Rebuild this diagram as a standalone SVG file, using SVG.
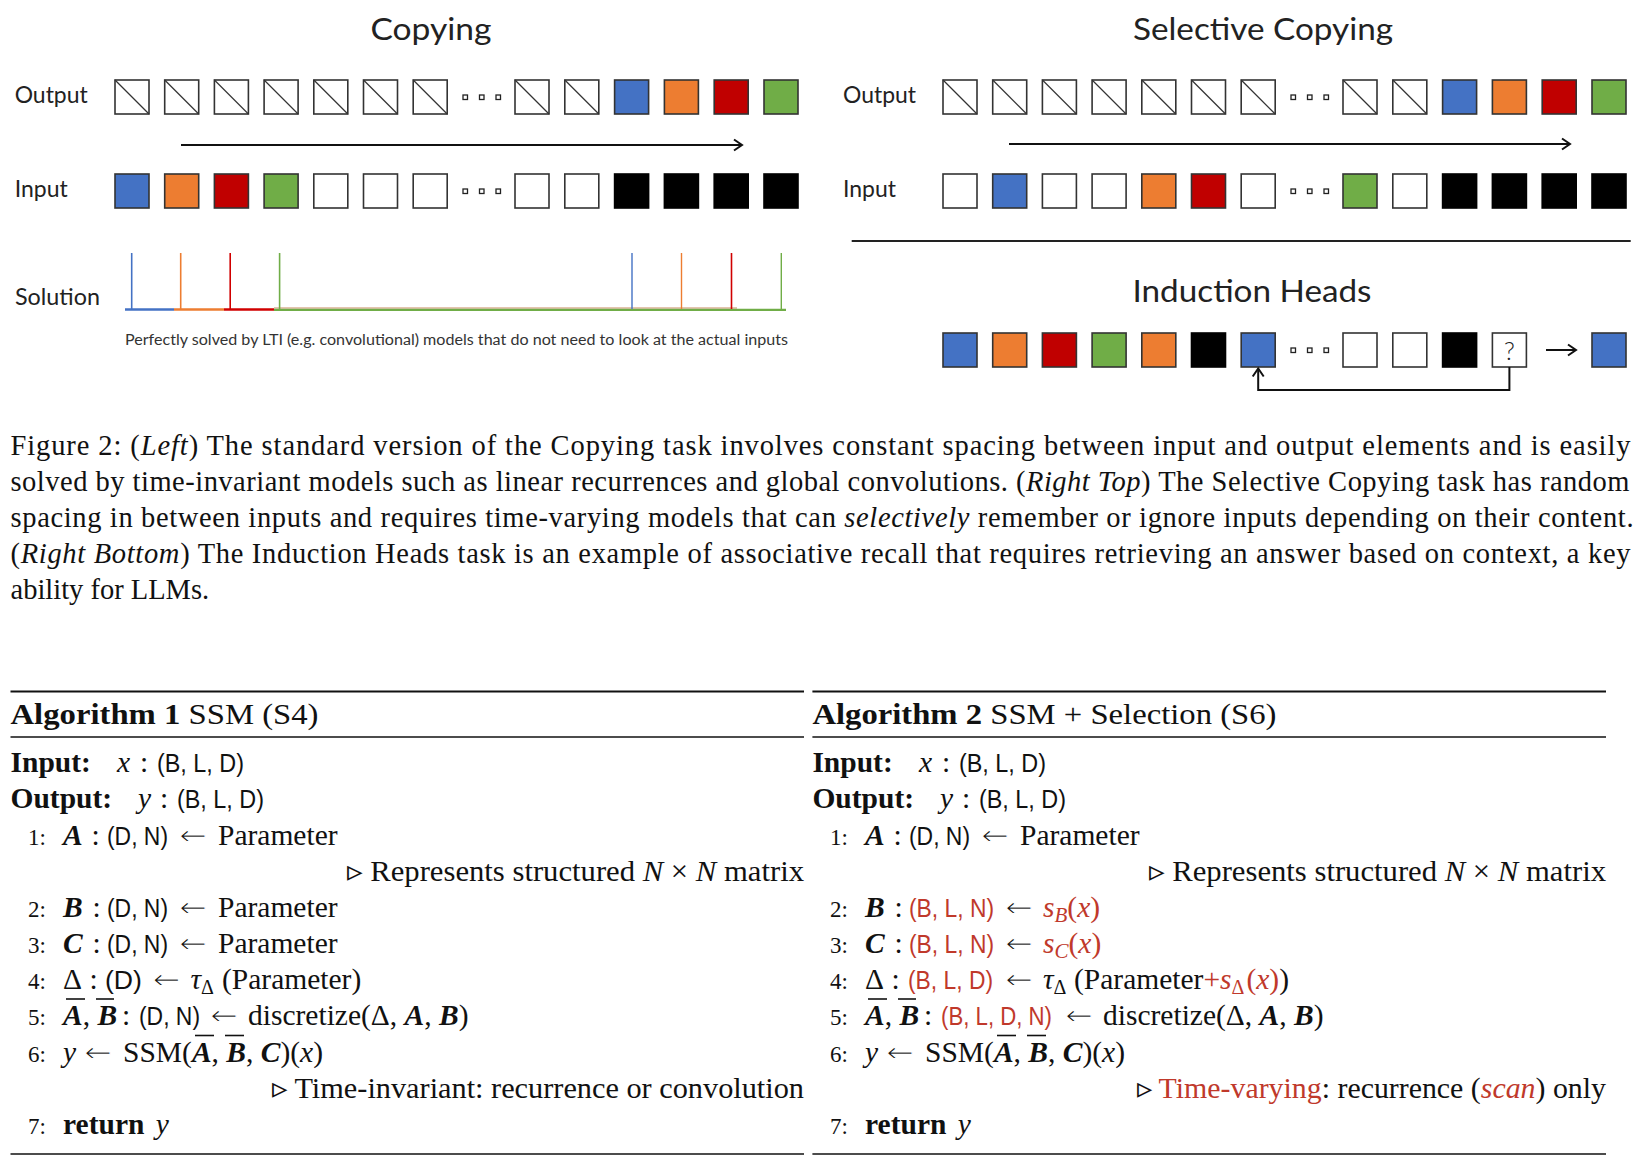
<svg xmlns="http://www.w3.org/2000/svg" xmlns:xlink="http://www.w3.org/1999/xlink" width="1650" height="1162" viewBox="0 0 1650 1162">
<style>
.fig{font-family:Lato,"Open Sans","Noto Sans",sans-serif;fill:#222}
.ttl{font-size:31px;text-anchor:middle}
.lbl{font-size:24px}
.note{font-size:14.5px;fill:#333}
.bx{stroke:#333;stroke-width:1.6}
.w{fill:#fff}.bl{fill:#4472C4}.or{fill:#ED7D31}.rd{fill:#C00000}.gr{fill:#70AD47}.bk{fill:#000;stroke:#000}
.dot{fill:#fff;stroke:#222;stroke-width:1.3}
.diag{stroke:#333;stroke-width:1.2}
.arr{stroke:#111;stroke-width:2;fill:none}
.cap{font-family:"Liberation Serif","Times New Roman",serif;font-size:28.5px;fill:#111}
.alg{font-family:"Liberation Serif","Times New Roman",serif;font-size:29.5px;fill:#111}
.ss{font-family:"Liberation Sans",Arial,sans-serif;font-size:25px}
.arw{font-family:"DejaVu Sans",sans-serif;font-size:28px;fill:#111;stroke:#fff;stroke-width:1.1}
.ln{font-size:23px}
.b{font-weight:bold}.i{font-style:italic}.bi{font-weight:bold;font-style:italic}
.red{fill:#C0392B}
.rule{stroke:#111}
</style>
<defs>
<marker id="chev" markerUnits="userSpaceOnUse" markerWidth="14" markerHeight="14" refX="10" refY="7" orient="auto">
<path d="M2,1.5 L10,7 L2,12.5" fill="none" stroke="#111" stroke-width="2"/>
</marker>
<g id="ob"><rect class="bx w" width="34" height="34"/><line class="diag" x1="0" y1="0" x2="34" y2="34"/></g>
<rect id="wb" class="bx w" width="34" height="34"/>
<rect id="bb" class="bx bl" width="34" height="34"/>
<rect id="obx" class="bx or" width="34" height="34"/>
<rect id="rb" class="bx rd" width="34" height="34"/>
<rect id="gb" class="bx gr" width="34" height="34"/>
<rect id="kb" class="bx bk" width="34" height="34"/>
<g id="dots"><rect class="dot" x="-2" y="-2" width="4.5" height="4.5"/><rect class="dot" x="14.5" y="-2" width="4.5" height="4.5"/><rect class="dot" x="31" y="-2" width="4.5" height="4.5"/></g>
</defs>
<rect width="1650" height="1162" fill="#fff"/>

<g id="copying" class="fig">
<text class="fig ttl" x="431" y="40" textLength="121" lengthAdjust="spacingAndGlyphs">Copying</text>
<text class="fig lbl" x="14.7" y="103" textLength="73" lengthAdjust="spacingAndGlyphs">Output</text>
<text class="fig lbl" x="14.7" y="197" textLength="53" lengthAdjust="spacingAndGlyphs">Input</text>
<text class="fig lbl" x="15" y="305" textLength="85" lengthAdjust="spacingAndGlyphs">Solution</text>
<g id="copy-out">
<use href="#ob" x="115" y="80"/><use href="#ob" x="164.7" y="80"/><use href="#ob" x="214.4" y="80"/><use href="#ob" x="264.1" y="80"/><use href="#ob" x="313.8" y="80"/><use href="#ob" x="363.5" y="80"/><use href="#ob" x="413.2" y="80"/>
<use href="#dots" x="465" y="97"/>
<use href="#ob" x="515" y="80"/><use href="#ob" x="564.8" y="80"/><use href="#bb" x="614.6" y="80"/><use href="#obx" x="664.4" y="80"/><use href="#rb" x="714.2" y="80"/><use href="#gb" x="764" y="80"/>
</g>
<g id="copy-in">
<use href="#bb" x="115" y="174"/><use href="#obx" x="164.7" y="174"/><use href="#rb" x="214.4" y="174"/><use href="#gb" x="264.1" y="174"/><use href="#wb" x="313.8" y="174"/><use href="#wb" x="363.5" y="174"/><use href="#wb" x="413.2" y="174"/>
<use href="#dots" x="465" y="191"/>
<use href="#wb" x="515" y="174"/><use href="#wb" x="564.8" y="174"/><use href="#kb" x="614.6" y="174"/><use href="#kb" x="664.4" y="174"/><use href="#kb" x="714.2" y="174"/><use href="#kb" x="764" y="174"/>
</g>
<g id="solution">
<line x1="274" y1="308" x2="737" y2="308" stroke="#c98a63" stroke-width="1.2"/>
<line x1="125" y1="309.5" x2="174" y2="309.5" stroke="#4472C4" stroke-width="2.5"/>
<line x1="174" y1="309.5" x2="224" y2="309.5" stroke="#ED7D31" stroke-width="2.5"/>
<line x1="224" y1="309.5" x2="274" y2="309.5" stroke="#D00000" stroke-width="2.5"/>
<line x1="274" y1="309.8" x2="786" y2="309.8" stroke="#70AD47" stroke-width="2.2"/>
<line x1="131.7" y1="253" x2="131.7" y2="309" stroke="#4472C4" stroke-width="1.6"/>
<line x1="180.7" y1="253" x2="180.7" y2="309" stroke="#ED7D31" stroke-width="1.6"/>
<line x1="230.2" y1="253" x2="230.2" y2="309" stroke="#D00000" stroke-width="1.6"/>
<line x1="279.6" y1="253" x2="279.6" y2="309" stroke="#70AD47" stroke-width="1.6"/>
<line x1="632" y1="253" x2="632" y2="309" stroke="#4472C4" stroke-width="1.4"/>
<line x1="681.5" y1="253" x2="681.5" y2="309" stroke="#ED7D31" stroke-width="1.4"/>
<line x1="731.5" y1="253" x2="731.5" y2="309" stroke="#D00000" stroke-width="1.6"/>
<line x1="781.3" y1="253" x2="781.3" y2="309" stroke="#70AD47" stroke-width="1.4"/>
</g>
<text class="fig note" x="125" y="345" textLength="663" lengthAdjust="spacingAndGlyphs">Perfectly solved by LTI (e.g. convolutional) models that do not need to look at the actual inputs</text>
</g>

<g id="selective-copying" class="fig">
<text class="fig ttl" x="1263" y="40" textLength="260" lengthAdjust="spacingAndGlyphs">Selective Copying</text>
<text class="fig lbl" x="843" y="103" textLength="73" lengthAdjust="spacingAndGlyphs">Output</text>
<text class="fig lbl" x="843" y="197" textLength="53" lengthAdjust="spacingAndGlyphs">Input</text>
<g id="sel-out">
<use href="#ob" x="943" y="80"/><use href="#ob" x="992.7" y="80"/><use href="#ob" x="1042.4" y="80"/><use href="#ob" x="1092.1" y="80"/><use href="#ob" x="1141.8" y="80"/><use href="#ob" x="1191.5" y="80"/><use href="#ob" x="1241.2" y="80"/>
<use href="#dots" x="1293" y="97"/>
<use href="#ob" x="1343" y="80"/><use href="#ob" x="1392.8" y="80"/><use href="#bb" x="1442.6" y="80"/><use href="#obx" x="1492.4" y="80"/><use href="#rb" x="1542.2" y="80"/><use href="#gb" x="1592" y="80"/>
</g>
<g id="sel-in">
<use href="#wb" x="943" y="174"/><use href="#bb" x="992.7" y="174"/><use href="#wb" x="1042.4" y="174"/><use href="#wb" x="1092.1" y="174"/><use href="#obx" x="1141.8" y="174"/><use href="#rb" x="1191.5" y="174"/><use href="#wb" x="1241.2" y="174"/>
<use href="#dots" x="1293" y="191"/>
<use href="#gb" x="1343" y="174"/><use href="#wb" x="1392.8" y="174"/><use href="#kb" x="1442.6" y="174"/><use href="#kb" x="1492.4" y="174"/><use href="#kb" x="1542.2" y="174"/><use href="#kb" x="1592" y="174"/>
</g>
</g>

<line id="separator" x1="851.7" y1="241" x2="1630.7" y2="241" stroke="#222" stroke-width="2.2"/>

<g id="induction-heads" class="fig">
<text class="fig ttl" x="1252" y="302" textLength="239" lengthAdjust="spacingAndGlyphs">Induction Heads</text>
<use href="#bb" x="943" y="333"/><use href="#obx" x="992.7" y="333"/><use href="#rb" x="1042.4" y="333"/><use href="#gb" x="1092.1" y="333"/><use href="#obx" x="1141.8" y="333"/><use href="#kb" x="1191.5" y="333"/><use href="#bb" x="1241.2" y="333"/>
<use href="#dots" x="1293" y="350"/>
<use href="#wb" x="1343" y="333"/><use href="#wb" x="1392.8" y="333"/><use href="#kb" x="1442.6" y="333"/><use href="#wb" x="1492.4" y="333"/>
<text class="fig" x="1509.4" y="360" font-size="25" text-anchor="middle" fill="#333" font-weight="300">?</text>
<use href="#bb" x="1592" y="333"/>
</g>

<g id="connectors">
<line class="arr" x1="181" y1="145" x2="742" y2="145" marker-end="url(#chev)"/>
<line class="arr" x1="1009" y1="144" x2="1570" y2="144" marker-end="url(#chev)"/>
<line class="arr" x1="1546" y1="350" x2="1576" y2="350" marker-end="url(#chev)"/>
<path class="arr" d="M1509.4,367 V390 H1258.2 V368.5" marker-end="url(#chev)"/>
</g>

<g id="caption" class="cap">
<text class="cap" x="10.5" y="455" textLength="1620" lengthAdjust="spacing">Figure 2: (<tspan class="i">Left</tspan>) The standard version of the Copying task involves constant spacing between input and output elements and is easily</text>
<text class="cap" x="10.5" y="490.7" textLength="1619" lengthAdjust="spacing">solved by time-invariant models such as linear recurrences and global convolutions. (<tspan class="i">Right Top</tspan>) The Selective Copying task has random</text>
<text class="cap" x="10.5" y="527" textLength="1623" lengthAdjust="spacing">spacing in between inputs and requires time-varying models that can <tspan class="i">selectively</tspan> remember or ignore inputs depending on their content.</text>
<text class="cap" x="10.5" y="563" textLength="1620" lengthAdjust="spacing">(<tspan class="i">Right Bottom</tspan>) The Induction Heads task is an example of associative recall that requires retrieving an answer based on context, a key</text>
<text class="cap" x="10.5" y="599">ability for LLMs.</text>
</g>

<g id="algorithm-1" class="alg">
<line class="rule" x1="10.5" y1="691.5" x2="804" y2="691.5" stroke-width="2.2"/>
<text class="alg" x="10.5" y="724" font-size="31" textLength="308" lengthAdjust="spacingAndGlyphs"><tspan class="b">Algorithm 1</tspan> SSM (S4)</text>
<line class="rule" x1="10.5" y1="737" x2="804" y2="737" stroke-width="1.3"/>
<text class="alg" y="772"><tspan class="b" x="10.5">Input:</tspan><tspan class="i" x="117">x</tspan><tspan x="140">:</tspan></text>
<text class="alg ss" x="157" y="772" textLength="87" lengthAdjust="spacingAndGlyphs">(B, L, D)</text>
<text class="alg" y="808"><tspan class="b" x="10.5">Output:</tspan><tspan class="i" x="138">y</tspan><tspan x="160">:</tspan></text>
<text class="alg ss" x="177" y="808" textLength="87" lengthAdjust="spacingAndGlyphs">(B, L, D)</text>

<text class="alg" y="844.5"><tspan class="ln" x="28">1:</tspan><tspan class="bi" x="63">A</tspan><tspan x="91.5">:</tspan><tspan x="218">Parameter</tspan></text>
<text class="arw" x="179" y="844.5" textLength="28" lengthAdjust="spacingAndGlyphs">←</text>
<text class="alg ss" x="107" y="844.5" textLength="61" lengthAdjust="spacingAndGlyphs">(D, N)</text>
<text class="alg" x="804" y="880.7" text-anchor="end" textLength="457" lengthAdjust="spacingAndGlyphs">▹ Represents structured <tspan class="i">N</tspan> × <tspan class="i">N</tspan> matrix</text>

<text class="alg" y="917"><tspan class="ln" x="28">2:</tspan><tspan class="bi" x="63">B</tspan><tspan x="92.5">:</tspan><tspan x="218">Parameter</tspan></text>
<text class="arw" x="179" y="917" textLength="28" lengthAdjust="spacingAndGlyphs">←</text>
<text class="alg ss" x="107" y="917" textLength="61" lengthAdjust="spacingAndGlyphs">(D, N)</text>
<text class="alg" y="953"><tspan class="ln" x="28">3:</tspan><tspan class="bi" x="63">C</tspan><tspan x="92.5">:</tspan><tspan x="218">Parameter</tspan></text>
<text class="arw" x="179" y="953" textLength="28" lengthAdjust="spacingAndGlyphs">←</text>
<text class="alg ss" x="107" y="953" textLength="61" lengthAdjust="spacingAndGlyphs">(D, N)</text>

<text class="alg" y="989.2"><tspan class="ln" x="28">4:</tspan><tspan x="63">Δ</tspan><tspan x="89.5">:</tspan><tspan class="i" x="190.5">τ</tspan><tspan font-size="20" dy="5">Δ</tspan><tspan x="222" dy="-5">(Parameter)</tspan></text>
<text class="arw" x="152.6" y="989.2" textLength="28" lengthAdjust="spacingAndGlyphs">←</text>
<text class="alg ss" x="105" y="989.2" textLength="37" lengthAdjust="spacingAndGlyphs">(D)</text>

<text class="alg" y="1025.4"><tspan class="ln" x="28">5:</tspan><tspan class="bi" x="63">A</tspan><tspan>, </tspan><tspan class="bi">B</tspan><tspan x="122">:</tspan><tspan x="248">discretize(Δ, </tspan><tspan class="bi">A</tspan><tspan>, </tspan><tspan class="bi">B</tspan><tspan>)</tspan></text>
<text class="arw" x="210" y="1025.4" textLength="28" lengthAdjust="spacingAndGlyphs">←</text>
<text class="alg ss" x="139" y="1025.4" textLength="61" lengthAdjust="spacingAndGlyphs">(D, N)</text>
<line class="rule" x1="66" y1="999" x2="85" y2="999" stroke-width="1.6"/>
<line class="rule" x1="96" y1="999" x2="114" y2="999" stroke-width="1.6"/>

<text class="alg" y="1061.6"><tspan class="ln" x="28">6:</tspan><tspan class="i" x="63">y</tspan><tspan x="123">SSM(</tspan><tspan class="bi">A</tspan><tspan>, </tspan><tspan class="bi">B</tspan><tspan>, </tspan><tspan class="bi">C</tspan><tspan>)(</tspan><tspan class="i">x</tspan><tspan>)</tspan></text>
<text class="arw" x="84" y="1061.6" textLength="28" lengthAdjust="spacingAndGlyphs">←</text>
<line class="rule" x1="195" y1="1035.5" x2="214" y2="1035.5" stroke-width="1.6"/>
<line class="rule" x1="225" y1="1035.5" x2="244" y2="1035.5" stroke-width="1.6"/>
<text class="alg" x="804" y="1097.8" text-anchor="end" textLength="532" lengthAdjust="spacingAndGlyphs">▹ Time-invariant: recurrence or convolution</text>
<text class="alg" y="1134"><tspan class="ln" x="28">7:</tspan><tspan class="b" x="63">return</tspan><tspan class="i" x="155.7">y</tspan></text>
<line class="rule" x1="10.5" y1="1154" x2="804" y2="1154" stroke-width="1.3"/>
</g>

<g id="algorithm-2" class="alg">
<line class="rule" x1="812.4" y1="691.5" x2="1606" y2="691.5" stroke-width="2.2"/>
<text class="alg" x="812.4" y="724" font-size="31" textLength="464" lengthAdjust="spacingAndGlyphs"><tspan class="b">Algorithm 2</tspan> SSM + Selection (S6)</text>
<line class="rule" x1="812.4" y1="737" x2="1606" y2="737" stroke-width="1.3"/>
<text class="alg" y="772"><tspan class="b" x="812.4">Input:</tspan><tspan class="i" x="919">x</tspan><tspan x="942">:</tspan></text>
<text class="alg ss" x="959" y="772" textLength="87" lengthAdjust="spacingAndGlyphs">(B, L, D)</text>
<text class="alg" y="808"><tspan class="b" x="812.4">Output:</tspan><tspan class="i" x="940">y</tspan><tspan x="962">:</tspan></text>
<text class="alg ss" x="979" y="808" textLength="87" lengthAdjust="spacingAndGlyphs">(B, L, D)</text>

<text class="alg" y="844.5"><tspan class="ln" x="830">1:</tspan><tspan class="bi" x="865">A</tspan><tspan x="893.5">:</tspan><tspan x="1020">Parameter</tspan></text>
<text class="arw" x="981" y="844.5" textLength="28" lengthAdjust="spacingAndGlyphs">←</text>
<text class="alg ss" x="909" y="844.5" textLength="61" lengthAdjust="spacingAndGlyphs">(D, N)</text>
<text class="alg" x="1606" y="880.7" text-anchor="end" textLength="457" lengthAdjust="spacingAndGlyphs">▹ Represents structured <tspan class="i">N</tspan> × <tspan class="i">N</tspan> matrix</text>

<text class="alg" y="917"><tspan class="ln" x="830">2:</tspan><tspan class="bi" x="865">B</tspan><tspan x="894.5">:</tspan><tspan class="i red" x="1043">s</tspan><tspan class="i red" font-size="21" dy="5">B</tspan><tspan class="red" dy="-5">(</tspan><tspan class="i red">x</tspan><tspan class="red">)</tspan></text>
<text class="arw" x="1005" y="917" textLength="28" lengthAdjust="spacingAndGlyphs">←</text>
<text class="alg ss red" x="909" y="917" textLength="85" lengthAdjust="spacingAndGlyphs">(B, L, N)</text>
<text class="alg" y="953"><tspan class="ln" x="830">3:</tspan><tspan class="bi" x="865">C</tspan><tspan x="894.5">:</tspan><tspan class="i red" x="1043">s</tspan><tspan class="i red" font-size="21" dy="5">C</tspan><tspan class="red" dy="-5">(</tspan><tspan class="i red">x</tspan><tspan class="red">)</tspan></text>
<text class="arw" x="1005" y="953" textLength="28" lengthAdjust="spacingAndGlyphs">←</text>
<text class="alg ss red" x="909" y="953" textLength="85" lengthAdjust="spacingAndGlyphs">(B, L, N)</text>

<text class="alg" y="989.2"><tspan class="ln" x="830">4:</tspan><tspan x="865">Δ</tspan><tspan x="891.5">:</tspan><tspan class="i" x="1043">τ</tspan><tspan font-size="20" dy="5">Δ</tspan><tspan x="1074" dy="-5">(Parameter</tspan><tspan class="red">+</tspan><tspan class="i red">s</tspan><tspan class="red" font-size="20" dy="5">Δ</tspan><tspan class="red" dx="2" dy="-5">(</tspan><tspan class="i red">x</tspan><tspan class="red">)</tspan><tspan>)</tspan></text>
<text class="arw" x="1005" y="989.2" textLength="28" lengthAdjust="spacingAndGlyphs">←</text>
<text class="alg ss red" x="908" y="989.2" textLength="85" lengthAdjust="spacingAndGlyphs">(B, L, D)</text>

<text class="alg" y="1025.4"><tspan class="ln" x="830">5:</tspan><tspan class="bi" x="865">A</tspan><tspan>, </tspan><tspan class="bi">B</tspan><tspan x="924">:</tspan><tspan x="1103">discretize(Δ, </tspan><tspan class="bi">A</tspan><tspan>, </tspan><tspan class="bi">B</tspan><tspan>)</tspan></text>
<text class="arw" x="1065" y="1025.4" textLength="28" lengthAdjust="spacingAndGlyphs">←</text>
<text class="alg ss red" x="941" y="1025.4" textLength="111" lengthAdjust="spacingAndGlyphs">(B, L, D, N)</text>
<line class="rule" x1="868" y1="999" x2="887" y2="999" stroke-width="1.6"/>
<line class="rule" x1="898" y1="999" x2="916" y2="999" stroke-width="1.6"/>

<text class="alg" y="1061.6"><tspan class="ln" x="830">6:</tspan><tspan class="i" x="865">y</tspan><tspan x="925">SSM(</tspan><tspan class="bi">A</tspan><tspan>, </tspan><tspan class="bi">B</tspan><tspan>, </tspan><tspan class="bi">C</tspan><tspan>)(</tspan><tspan class="i">x</tspan><tspan>)</tspan></text>
<text class="arw" x="886" y="1061.6" textLength="28" lengthAdjust="spacingAndGlyphs">←</text>
<line class="rule" x1="997" y1="1035.5" x2="1016" y2="1035.5" stroke-width="1.6"/>
<line class="rule" x1="1027" y1="1035.5" x2="1046" y2="1035.5" stroke-width="1.6"/>
<text class="alg" x="1606" y="1097.8" text-anchor="end" textLength="469.5" lengthAdjust="spacingAndGlyphs">▹ <tspan class="red">Time-varying</tspan>: recurrence (<tspan class="i red">scan</tspan>) only</text>
<text class="alg" y="1134"><tspan class="ln" x="830">7:</tspan><tspan class="b" x="865">return</tspan><tspan class="i" x="957.7">y</tspan></text>
<line class="rule" x1="812.4" y1="1154" x2="1606" y2="1154" stroke-width="1.3"/>
</g>
</svg>
